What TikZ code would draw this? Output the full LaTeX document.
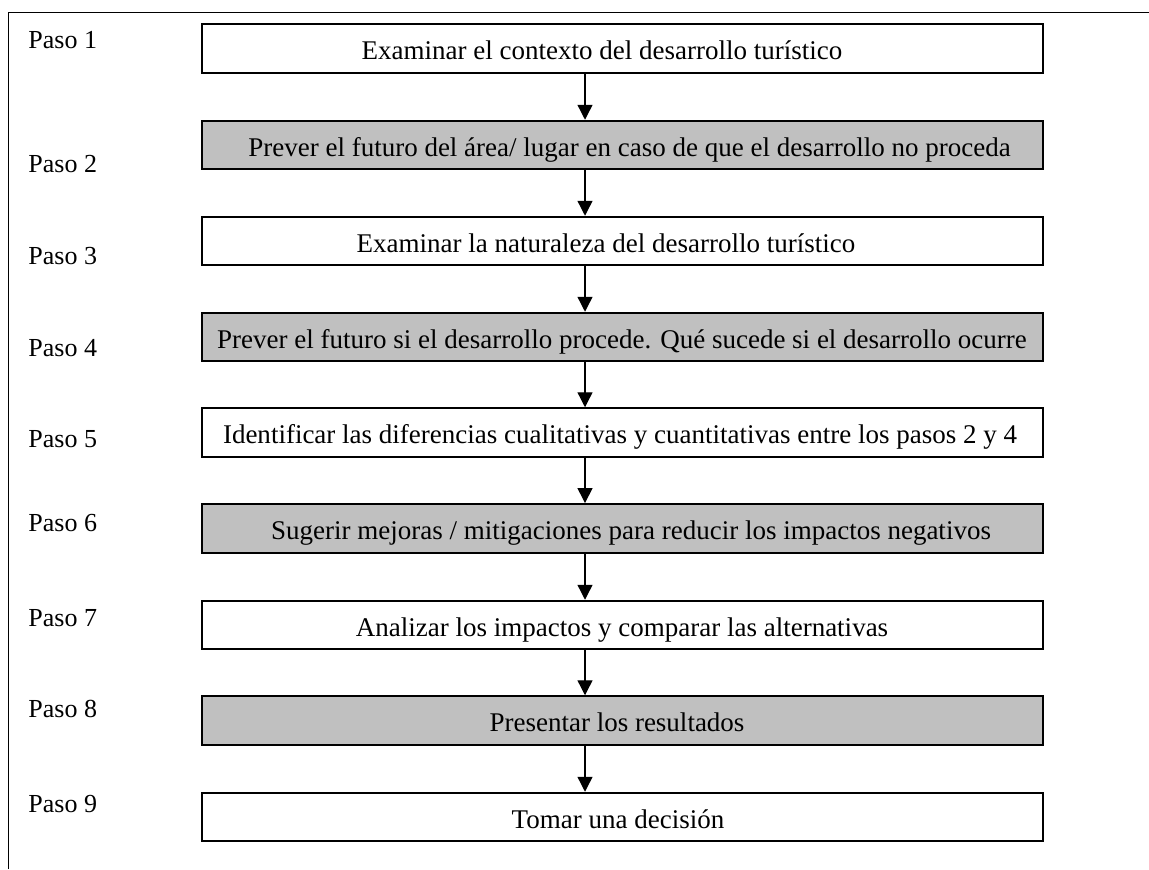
\documentclass[tikz,border=0pt]{standalone}
\usepackage{fontspec}
\setmainfont{Liberation Serif}
\usetikzlibrary{arrows.meta}
\definecolor{boxgray}{RGB}{192,192,192}
\begin{document}
\begin{tikzpicture}[x=0.5pt,y=-0.5pt,
  stepbox/.style={draw,line width=1pt,minimum width=420.5pt,minimum height=24.25pt,inner sep=0pt},
  plainbox/.style={stepbox,fill=white},
  shadedbox/.style={stepbox,fill=boxgray},
  boxtext/.style={font=\fontsize{13.5}{16}\selectfont,inner sep=0pt,text height=11pt,text depth=0pt},
  pasolabel/.style={font=\fontsize{13}{15}\selectfont,anchor=base west,inner sep=0pt},
  flow/.style={-{Triangle[length=7.5pt,width=7.5pt]},line width=0.65pt}]
  \useasboundingbox (0,0) rectangle (1149,869);

  % outer frame: left and top edges only
  \draw[line width=0.75pt] (8.3,869) -- (8.3,12.7) -- (1149,12.7);

  % step labels
  \node[pasolabel] (p1) at (28,48)  {Paso 1};
  \node[pasolabel] (p2) at (28,172) {Paso 2};
  \node[pasolabel] (p3) at (28,264) {Paso 3};
  \node[pasolabel] (p4) at (28,356) {Paso 4};
  \node[pasolabel] (p5) at (28,447) {Paso 5};
  \node[pasolabel] (p6) at (28,531) {Paso 6};
  \node[pasolabel] (p7) at (28,626) {Paso 7};
  \node[pasolabel] (p8) at (28,717) {Paso 8};
  \node[pasolabel] (p9) at (28,812) {Paso 9};

  % step boxes
  \node[plainbox]  (b1) at (622,48.3)  {};
  \node[shadedbox] (b2) at (622,145)   {};
  \node[plainbox]  (b3) at (622,241)   {};
  \node[shadedbox] (b4) at (622,337)   {};
  \node[plainbox]  (b5) at (622,432.5) {};
  \node[shadedbox] (b6) at (622,528.3) {};
  \node[plainbox]  (b7) at (622,625)   {};
  \node[shadedbox] (b8) at (622,720.5) {};
  \node[plainbox]  (b9) at (622,817)   {};

  % box texts
  \node[boxtext] (t1) at ([xshift=-10pt]b1.center)  {Examinar el contexto del desarrollo turístico};
  \node[boxtext] (t2) at ([xshift=3.75pt]b2.center) {Prever el futuro del área/ lugar en caso de que el desarrollo no proceda};
  \node[boxtext] (t3) at ([xshift=-8pt]b3.center)   {Examinar la naturaleza del desarrollo turístico};
  \node[boxtext] (t4) at (b4.center)                {Prever el futuro si el desarrollo procede. Qué sucede si el desarrollo ocurre};
  \node[boxtext] (t5) at ([xshift=-1pt]b5.center)   {Identificar las diferencias cualitativas y cuantitativas entre los pasos 2 y 4};
  \node[boxtext] (t6) at ([xshift=4.5pt]b6.center)  {Sugerir mejoras / mitigaciones para reducir los impactos negativos};
  \node[boxtext] (t7) at (b7.center)                {Analizar los impactos y comparar las alternativas};
  \node[boxtext] (t8) at ([xshift=-2.5pt]b8.center) {Presentar los resultados};
  \node[boxtext] (t9) at ([xshift=-2pt]b9.center)   {Tomar una decisión};

  % connectors
  \coordinate (ax) at (585,0);
  \foreach \a/\b in {b1/b2,b2/b3,b3/b4,b4/b5,b5/b6,b6/b7,b7/b8,b8/b9}
    \draw[flow] (\a.south -| ax) -- (\b.north -| ax);
\end{tikzpicture}
\end{document}
